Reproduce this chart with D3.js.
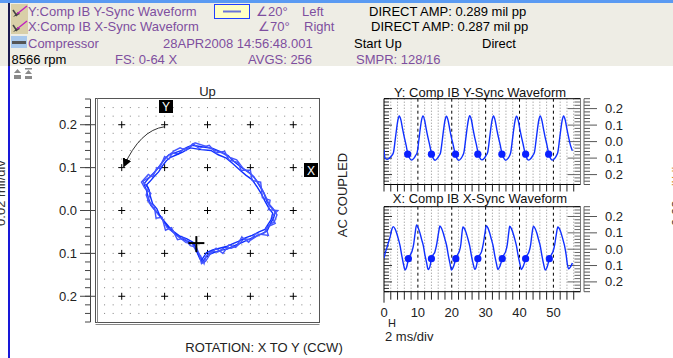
<!DOCTYPE html>
<html><head><meta charset="utf-8">
<script src="https://cdn.jsdelivr.net/npm/d3@7"></script>
<style>html,body{margin:0;padding:0;background:#fff;overflow:hidden}svg{display:block;font-family:"Liberation Sans",Arial,sans-serif}</style>
</head><body>
<svg id="c" width="673" height="358"></svg>
<script>
// ---------- DATA ----------
const headerRow1 = ["Y:Comp IB Y-Sync Waveform", "∠20°", "Left", "DIRECT AMP: 0.289 mil pp"];
const headerRow2 = ["X:Comp IB X-Sync Waveform", "∠70°", "Right", "DIRECT AMP: 0.287 mil pp"];
const headerRow3 = ["Compressor", "28APR2008 14:56:48.001", "Start Up", "Direct"];
const headerRow4 = ["8566 rpm", "FS: 0-64 X", "AVGS: 256", "SMPR: 128/16"];

const ampTicks = [0.2, 0.1, 0.0, -0.1, -0.2];
const ampTickLabels = ["0.2", "0.1", "0.0", "0.1", "0.2"];
const timeTicks = [0, 10, 20, 30, 40, 50];
const timeTickLabels = ["0", "10", "20", "30", "40", "50"];

// Y-probe waveform [ms, mil]
const waveY = [[0,-0.05],[0.3,-0.1],[1.0,-0.108],[1.6,-0.1],[2.3,-0.085],
[2.8,-0.065],[3.3,0.01],[3.7,0.075],[4.1,0.13],[4.5,0.155],[5.0,0.13],[5.5,0.075],[6.0,0.025],[6.5,-0.02],[7.0,-0.07],[7.5,-0.098],[8.1,-0.112],[8.8,-0.102],[9.3,-0.085],
[9.8,-0.065],[10.3,0.01],[10.7,0.078],[11.1,0.132],[11.5,0.156],[12.0,0.128],[12.5,0.072],[13.0,0.022],[13.5,-0.022],[14.0,-0.072],[14.5,-0.1],[15.1,-0.113],[15.8,-0.1],[16.3,-0.084],
[16.7,-0.066],[17.2,0.008],[17.6,0.074],[18.0,0.128],[18.4,0.154],[18.9,0.13],[19.4,0.076],[19.9,0.024],[20.4,-0.018],[20.9,-0.066],[21.4,-0.097],[22.0,-0.114],[22.7,-0.103],[23.2,-0.086],
[23.6,-0.064],[24.1,0.012],[24.5,0.077],[24.9,0.131],[25.3,0.157],[25.8,0.131],[26.3,0.074],[26.8,0.023],[27.3,-0.021],[27.8,-0.071],[28.3,-0.099],[28.9,-0.111],[29.6,-0.101],[30.1,-0.085],
[30.6,-0.065],[31.1,0.009],[31.5,0.076],[31.9,0.13],[32.3,0.155],[32.8,0.129],[33.3,0.073],[33.8,0.024],[34.3,-0.02],[34.8,-0.07],[35.3,-0.098],[35.9,-0.113],[36.6,-0.102],[37.1,-0.084],
[37.4,-0.066],[37.9,0.011],[38.3,0.075],[38.7,0.129],[39.1,0.154],[39.6,0.13],[40.1,0.075],[40.6,0.025],[41.1,-0.019],[41.6,-0.069],[42.1,-0.099],[42.7,-0.112],[43.4,-0.101],[43.9,-0.085],
[44.4,-0.065],[44.9,0.01],[45.3,0.076],[45.7,0.131],[46.1,0.156],[46.6,0.129],[47.1,0.074],[47.6,0.023],[48.1,-0.021],[48.6,-0.071],[49.1,-0.1],[49.7,-0.112],[50.4,-0.102],[50.9,-0.085],
[51.3,-0.065],[51.8,0.01],[52.2,0.076],[52.6,0.13],[53.0,0.155],[53.5,0.13],[54.0,0.075],[54.5,0.025],[55.0,-0.02],[55.6,-0.055]];
const kpY = [[7.0,-0.076],[14.0,-0.076],[21.1,-0.076],[27.7,-0.076],[34.8,-0.076],[41.8,-0.076],[48.6,-0.076]];

// X-probe waveform [ms, mil]
const waveX = [[0,-0.055],[0.4,-0.02],[0.8,0.005],[1.3,0.04],[1.8,0.075],[2.3,0.12],[2.75,0.138],
[3.25,0.125],[3.75,0.098],[4.25,0.062],[4.75,0.02],[5.25,-0.04],[5.75,-0.092],[6.2,-0.127],[6.65,-0.112],[7.2,-0.062],[7.75,-0.036],[8.25,-0.014],[8.75,0.03],[9.2,0.1],[9.6,0.148],
[10.1,0.13],[10.6,0.1],[11.1,0.06],[11.6,0.022],[12.1,-0.038],[12.6,-0.085],[13.0,-0.124],[13.5,-0.11],[14.0,-0.06],[14.5,-0.035],[15.0,-0.018],[15.6,0.035],[16.1,0.1],[16.5,0.142],
[17.0,0.127],[17.5,0.098],[18.0,0.06],[18.5,0.021],[19.0,-0.04],[19.5,-0.09],[19.9,-0.127],[20.4,-0.112],[21.2,-0.06],[21.7,-0.034],[22.2,-0.014],[22.7,0.032],[23.0,0.095],[23.3,0.136],
[23.8,0.124],[24.3,0.097],[24.8,0.061],[25.3,0.02],[25.8,-0.039],[26.3,-0.088],[26.8,-0.123],[27.2,-0.11],[27.7,-0.06],[28.3,-0.035],[28.8,-0.015],[29.3,0.032],[29.8,0.098],[30.2,0.144],
[30.7,0.129],[31.2,0.099],[31.7,0.06],[32.2,0.021],[32.7,-0.04],[33.2,-0.089],[33.6,-0.124],[34.1,-0.11],[34.9,-0.06],[35.4,-0.034],[35.9,-0.015],[36.4,0.03],[36.8,0.098],[37.1,0.14],
[37.6,0.126],[38.1,0.098],[38.6,0.062],[39.1,0.02],[39.6,-0.04],[40.1,-0.088],[40.5,-0.124],[41.0,-0.11],[41.8,-0.06],[42.3,-0.035],[42.8,-0.016],[43.3,0.03],[43.7,0.097],[44.1,0.141],
[44.6,0.127],[45.1,0.099],[45.6,0.06],[46.1,0.022],[46.6,-0.038],[47.1,-0.09],[47.6,-0.128],[48.1,-0.112],[48.8,-0.06],[49.4,-0.034],[49.9,-0.014],[50.4,0.03],[50.9,0.096],[51.3,0.136],
[51.8,0.124],[52.3,0.097],[52.8,0.06],[53.3,0.02],[53.8,-0.04],[54.1,-0.09],[54.5,-0.12],[55.0,-0.11],[55.6,-0.085]];
const kpX = [[7.2,-0.058],[14.0,-0.058],[21.2,-0.058],[27.7,-0.058],[34.9,-0.058],[41.8,-0.058],[48.8,-0.058]];

// Orbit revolutions [x mil, y mil]
const orbitLoopA = [[-0.036,0.152],[-0.01,0.148],[0.012,0.145],[0.03,0.137],[0.048,0.128],[0.061,0.115],[0.08,0.1],[0.095,0.09],[0.108,0.079],[0.12,0.06],[0.131,0.042],[0.139,0.02],[0.148,0.008],[0.158,-0.003],[0.154,-0.018],[0.147,-0.03],[0.139,-0.048],[0.125,-0.055],[0.108,-0.062],[0.09,-0.07],[0.075,-0.077],[0.06,-0.083],[0.046,-0.09],[0.03,-0.093],[0.015,-0.098],[0.0,-0.104],[-0.012,-0.12],[-0.018,-0.112],[-0.024,-0.098],[-0.03,-0.08],[-0.045,-0.072],[-0.06,-0.066],[-0.075,-0.055],[-0.088,-0.044],[-0.1,-0.028],[-0.11,-0.013],[-0.122,0.0],[-0.132,0.012],[-0.138,0.03],[-0.142,0.046],[-0.148,0.062],[-0.14,0.072],[-0.13,0.082],[-0.12,0.093],[-0.11,0.106],[-0.1,0.12],[-0.09,0.13],[-0.075,0.135],[-0.06,0.14],[-0.047,0.148],[-0.036,0.152]];
const orbitLoopB = [[-0.03,0.158],[-0.005,0.15],[0.018,0.14],[0.036,0.133],[0.052,0.124],[0.068,0.118],[0.085,0.096],[0.1,0.086],[0.113,0.072],[0.124,0.056],[0.134,0.036],[0.143,0.016],[0.153,0.004],[0.162,-0.01],[0.156,-0.026],[0.142,-0.036],[0.133,-0.052],[0.118,-0.058],[0.102,-0.068],[0.085,-0.066],[0.07,-0.082],[0.055,-0.088],[0.04,-0.086],[0.024,-0.097],[0.01,-0.094],[-0.004,-0.108],[-0.008,-0.124],[-0.016,-0.106],[-0.028,-0.092],[-0.036,-0.076],[-0.05,-0.075],[-0.066,-0.062],[-0.08,-0.05],[-0.094,-0.04],[-0.104,-0.022],[-0.116,-0.008],[-0.126,0.006],[-0.136,0.018],[-0.143,0.036],[-0.138,0.052],[-0.151,0.068],[-0.135,0.078],[-0.125,0.088],[-0.114,0.1],[-0.106,0.112],[-0.094,0.126],[-0.084,0.134],[-0.068,0.132],[-0.055,0.144],[-0.042,0.146],[-0.03,0.158]];
const orbitLoopC = [[-0.04,0.146],[-0.015,0.142],[0.008,0.14],[0.025,0.13],[0.044,0.122],[0.058,0.11],[0.076,0.094],[0.09,0.082],[0.104,0.072],[0.115,0.056],[0.126,0.038],[0.134,0.022],[0.144,0.004],[0.152,-0.006],[0.148,-0.022],[0.14,-0.034],[0.134,-0.044],[0.12,-0.05],[0.104,-0.058],[0.088,-0.064],[0.072,-0.072],[0.058,-0.078],[0.044,-0.084],[0.028,-0.088],[0.012,-0.092],[-0.002,-0.098],[-0.014,-0.116],[-0.022,-0.102],[-0.028,-0.088],[-0.034,-0.074],[-0.048,-0.066],[-0.064,-0.06],[-0.078,-0.05],[-0.09,-0.038],[-0.102,-0.024],[-0.112,-0.01],[-0.118,0.004],[-0.128,0.016],[-0.133,0.032],[-0.136,0.048],[-0.142,0.06],[-0.134,0.068],[-0.124,0.08],[-0.114,0.09],[-0.105,0.104],[-0.096,0.116],[-0.086,0.124],[-0.072,0.13],[-0.058,0.136],[-0.048,0.142],[-0.04,0.146]];
const orbitLoopD = [[-0.034,0.156],[-0.02,0.145],[0.004,0.152],[0.02,0.134],[0.04,0.138],[0.05,0.118],[0.072,0.112],[0.078,0.094],[0.1,0.094],[0.104,0.07],[0.124,0.066],[0.128,0.03],[0.146,0.024],[0.142,0.002],[0.164,0.0],[0.15,-0.014],[0.158,-0.03],[0.136,-0.04],[0.142,-0.058],[0.112,-0.054],[0.096,-0.074],[0.08,-0.062],[0.066,-0.086],[0.05,-0.08],[0.036,-0.1],[0.02,-0.088],[0.006,-0.102],[-0.004,-0.118],[-0.014,-0.124],[-0.02,-0.1],[-0.026,-0.086],[-0.04,-0.082],[-0.054,-0.064],[-0.07,-0.068],[-0.084,-0.04],[-0.098,-0.046],[-0.106,-0.016],[-0.12,-0.018],[-0.124,0.01],[-0.14,0.024],[-0.132,0.04],[-0.146,0.052],[-0.154,0.066],[-0.138,0.084],[-0.128,0.078],[-0.118,0.1],[-0.112,0.098],[-0.1,0.126],[-0.09,0.12],[-0.08,0.138],[-0.064,0.146],[-0.05,0.14],[-0.034,0.156]];
const orbitKP = [-0.026, -0.076];

// ---------- DRAW ----------
const svg = d3.select("#c");
const PURPLE = "#7e4f9f", BLUE = "#1030ff";
const defs = svg.append("defs");
defs.append("marker").attr("id","ah").attr("viewBox","0 0 10 10").attr("refX",9).attr("refY",5)
  .attr("markerWidth",9).attr("markerHeight",9).attr("markerUnits","userSpaceOnUse").attr("orient","auto")
  .append("path").attr("d","M0,0L10,5L0,10Z").attr("fill","#000");

// header
svg.append("rect").attr("x",0).attr("y",0).attr("width",673).attr("height",66).attr("fill","#eeede5");
svg.append("rect").attr("x",0).attr("y",0).attr("width",673).attr("height",3).attr("fill","#5a9af2");
svg.append("line").attr("x1",9).attr("x2",9).attr("y1",3).attr("y2",66).attr("stroke","#1a1a50").attr("stroke-width",2);
svg.append("line").attr("x1",9).attr("x2",9).attr("y1",66).attr("y2",358).attr("stroke","#1818d8").attr("stroke-width",2);
// icons
[[4],[19]].forEach(([y0])=>{
  const g = svg.append("g").attr("transform",`translate(11,${y0})`);
  g.append("rect").attr("width",17).attr("height",15).attr("fill","#d9cfa8");
  g.append("path").attr("d","M2,13 L7,8 L9,10 Z").attr("fill","#333");
  g.append("line").attr("x1",6).attr("y1",10).attr("x2",16).attr("y2",2).attr("stroke","#c020c0").attr("stroke-width",1.5);
  g.append("line").attr("x1",2).attr("y1",6).attr("x2",6).attr("y2",12).attr("stroke","#444").attr("stroke-width",1.5);
});
{
  const g = svg.append("g").attr("transform","translate(11,36)");
  g.append("rect").attr("width",16).attr("height",12).attr("fill","#a8c8ec");
  g.append("rect").attr("x",1).attr("y",5).attr("width",14).attr("height",3).attr("fill","#555");
}
svg.append("rect").attr("x",214.5).attr("y",4.5).attr("width",35).attr("height",14).attr("fill","#ffffc4").attr("stroke","#2040ff");
svg.append("line").attr("x1",223).attr("x2",241).attr("y1",11.5).attr("y2",11.5).attr("stroke","#6a74d8").attr("stroke-width",2);

function htext(str, x, y, color){ svg.append("text").attr("x",x).attr("y",y).attr("font-size",13).attr("fill",color).text(str); }
htext(headerRow1[0], 28, 15.5, PURPLE); htext(headerRow1[1], 256, 15.5, PURPLE); htext(headerRow1[2], 302, 15.5, PURPLE); htext(headerRow1[3], 369, 15.5, "#000");
htext(headerRow2[0], 28, 30.5, PURPLE); htext(headerRow2[1], 258, 30.5, PURPLE); htext(headerRow2[2], 304, 30.5, PURPLE); htext(headerRow2[3], 371, 30.5, "#000");
htext(headerRow3[0], 28, 47.5, PURPLE); htext(headerRow3[1], 163, 47.5, PURPLE); htext(headerRow3[2], 354, 47.5, "#000"); htext(headerRow3[3], 482, 47.5, "#000");
htext(headerRow4[0], 11.5, 63.5, "#000"); htext(headerRow4[1], 115, 63.5, PURPLE); htext(headerRow4[2], 248, 63.5, PURPLE); htext(headerRow4[3], 356, 63.5, PURPLE);

// small toolbar icons
{
  const g = svg.append("g").attr("fill","#8a8a8a");
  g.append("path").attr("d","M14,73 L17.5,69 L21,73 Z M14,79 L14,75 L21,75 L21,79 Z");
  g.append("rect").attr("x",25).attr("y",68).attr("width",7).attr("height",1.5);
  g.append("path").attr("d","M25,74 L28.5,70 L32,74 Z M25,79 L25,76 L32,76 L32,79 Z");
}

// side labels (clipped by window edges)
svg.append("text").attr("transform","translate(5,193) rotate(-90)").attr("text-anchor","middle").attr("font-size",13).attr("fill","#333").text("0.02 mil/div");
{
  const t = svg.append("text").attr("transform","translate(681,193) rotate(-90)").attr("text-anchor","middle").attr("font-size",13).attr("fill","#333");
  t.append("tspan").text("0.02 ");
  t.append("tspan").attr("fill","#d08a30").text("mil/div");
}

// ---------- ORBIT ----------
const xO = d3.scaleLinear().domain([-0.26,0.26]).range([96,319]);
const yO = d3.scaleLinear().domain([0.26,-0.26]).range([99,322]);
const gridVals = d3.range(-12,13).map(i=>i*0.02);
const dotG = svg.append("g").attr("fill","#808080");
gridVals.forEach(gx=>gridVals.forEach(gy=>{
  dotG.append("rect").attr("x",xO(gx)-0.5).attr("y",yO(gy)-0.5).attr("width",1).attr("height",1);
}));
const crossG = svg.append("g").attr("stroke","#000").attr("stroke-width",1);
ampTicks.forEach(cx=>ampTicks.forEach(cy=>{
  crossG.append("line").attr("x1",xO(cx)-3.5).attr("x2",xO(cx)+3.5).attr("y1",yO(cy)).attr("y2",yO(cy));
  crossG.append("line").attr("x1",xO(cx)).attr("x2",xO(cx)).attr("y1",yO(cy)-3.5).attr("y2",yO(cy)+3.5);
}));
// frame
svg.append("rect").attr("x",95.5).attr("y",98.5).attr("width",224).attr("height",224).attr("fill","none").attr("stroke","#555");
svg.append("line").attr("x1",97.5).attr("x2",97.5).attr("y1",98.5).attr("y2",322.5).attr("stroke","#888");
svg.append("line").attr("x1",95.5).attr("x2",319.5).attr("y1",324.5).attr("y2",324.5).attr("stroke","#888");
// ruler
const rul = svg.append("g").attr("stroke","#444");
rul.append("line").attr("x1",90.5).attr("x2",90.5).attr("y1",99).attr("y2",322);
d3.range(-13,14).map(i=>i*0.02).forEach(v=>{
  rul.append("line").attr("x1",85).attr("x2",90.5).attr("y1",yO(v)).attr("y2",yO(v));
});
ampTicks.forEach(v=>rul.append("line").attr("x1",80).attr("x2",95.5).attr("y1",yO(v)).attr("y2",yO(v)));
ampTicks.forEach((v,i)=>svg.append("text").attr("x",77).attr("y",yO(v)+4.5).attr("text-anchor","end").attr("font-size",13).attr("fill","#222").text(ampTickLabels[i]));
svg.append("text").attr("x",xO(0)).attr("y",96).attr("text-anchor","middle").attr("font-size",13).attr("fill","#222").text("Up");
// orbit traces
defs.append("clipPath").attr("id","clipO").append("rect").attr("x",96).attr("y",99).attr("width",223).attr("height",223);
const lineO = d3.line().x(d=>xO(d[0])).y(d=>yO(d[1]));
const og = svg.append("g").attr("clip-path","url(#clipO)");
[orbitLoopA, orbitLoopB, orbitLoopC, orbitLoopD].forEach((loop,i)=>{
  og.append("path").datum(loop).attr("d",lineO).attr("fill","none").attr("stroke",i%2===1?"#4456ff":BLUE).attr("stroke-width",1.4);
});
// keyphasor mark
svg.append("g").attr("stroke","#000").attr("stroke-width",2).call(g=>{
  g.append("line").attr("x1",xO(orbitKP[0])-8).attr("x2",xO(orbitKP[0])+8).attr("y1",yO(orbitKP[1])).attr("y2",yO(orbitKP[1]));
  g.append("line").attr("x1",xO(orbitKP[0])).attr("x2",xO(orbitKP[0])).attr("y1",yO(orbitKP[1])-7).attr("y2",yO(orbitKP[1])+9);
});
// probe labels and arrow
svg.append("rect").attr("x",159).attr("y",100).attr("width",14).attr("height",13).attr("fill","#000");
svg.append("text").attr("x",166).attr("y",111).attr("text-anchor","middle").attr("font-size",12).attr("fill","#fff").text("Y");
svg.append("rect").attr("x",304).attr("y",163).attr("width",14).attr("height",14).attr("fill","#000");
svg.append("text").attr("x",311).attr("y",174.5).attr("text-anchor","middle").attr("font-size",12).attr("fill","#fff").text("X");
svg.append("path").attr("d",`M${xO(-0.1)},${yO(0.2)+2} Q140,130 ${xO(-0.2)+2},${yO(0.1)-1}`).attr("fill","none").attr("stroke","#333").attr("stroke-width",1).attr("marker-end","url(#ah)");

svg.append("text").attr("transform","translate(347,195) rotate(-90)").attr("text-anchor","middle").attr("font-size",13).attr("fill","#222").text("AC COUPLED");
svg.append("text").attr("x",264).attr("y",352).attr("text-anchor","middle").attr("font-size",13).attr("fill","#222").text("ROTATION: X TO Y (CCW)");

// ---------- WAVEFORMS ----------
const xW = d3.scaleLinear().domain([0,58]).range([384,580.5]);
const panels = [
  {title:"Y: Comp IB Y-Sync Waveform", top:98.7, bot:184.5, data:waveY, kp:kpY, titleY:96.5, tickLen:7},
  {title:"X: Comp IB X-Sync Waveform", top:206.7, bot:291.7, data:waveX, kp:kpX, titleY:202.5, tickLen:8}
];
panels.forEach((p,pi)=>{
  const y = d3.scaleLinear().domain([0.26,-0.26]).range([p.top,p.bot]);
  const g = svg.append("g");
  // dotted minor grid
  d3.range(2,58,2).filter(t=>t%10!==0).forEach(t=>{
    g.append("line").attr("x1",xW(t)).attr("x2",xW(t)).attr("y1",p.top).attr("y2",p.bot).attr("stroke","#8a8a8a").attr("stroke-dasharray","1,2");
  });
  timeTicks.filter(t=>t>0).forEach(t=>{
    g.append("line").attr("x1",xW(t)).attr("x2",xW(t)).attr("y1",p.top).attr("y2",p.bot).attr("stroke","#000").attr("stroke-dasharray","3,3");
  });
  // inner rulers
  d3.range(-13,14).map(i=>i*0.02).forEach(v=>{
    const major = Math.abs(Math.round(v*100))%10===0;
    g.append("line").attr("x1",384).attr("x2",384+(major?8:5)).attr("y1",y(v)).attr("y2",y(v)).attr("stroke","#333");
    g.append("line").attr("x1",580.5).attr("x2",580.5-(major?13:6)).attr("y1",y(v)).attr("y2",y(v)).attr("stroke","#666");
    g.append("line").attr("x1",584).attr("x2",584+(major?13:6)).attr("y1",y(v)).attr("y2",y(v)).attr("stroke","#555");
  });
  g.append("line").attr("x1",584).attr("x2",584).attr("y1",p.top).attr("y2",p.bot).attr("stroke","#666");
  // frame
  g.append("line").attr("x1",384).attr("x2",580.5).attr("y1",p.top).attr("y2",p.top).attr("stroke","#000");
  g.append("line").attr("x1",384).attr("x2",580.5).attr("y1",p.bot).attr("y2",p.bot).attr("stroke","#000");
  g.append("line").attr("x1",384).attr("x2",384).attr("y1",p.top).attr("y2",p.bot).attr("stroke","#000");
  g.append("line").attr("x1",580.5).attr("x2",580.5).attr("y1",p.top).attr("y2",p.bot).attr("stroke","#777");
  // bottom ticks
  d3.range(0,58,2).forEach(t=>{
    g.append("line").attr("x1",xW(t)).attr("x2",xW(t)).attr("y1",p.bot).attr("y2",p.bot+(t===0&&pi===1?11:p.tickLen)).attr("stroke","#222");
  });
  // labels
  ampTicks.forEach((v,i)=>g.append("text").attr("x",605).attr("y",y(v)+4.5).attr("font-size",13).attr("fill","#222").text(ampTickLabels[i]));
  g.append("text").attr("x",480).attr("y",p.titleY).attr("text-anchor","middle").attr("font-size",13).attr("fill","#111").text(p.title);
  // trace
  const cid = "clipW"+pi;
  defs.append("clipPath").attr("id",cid).append("rect").attr("x",384).attr("y",p.top).attr("width",196.5).attr("height",p.bot-p.top);
  const line = d3.line().x(d=>xW(d[0])).y(d=>y(d[1])).curve(d3.curveMonotoneX);
  g.append("path").datum(p.data).attr("clip-path",`url(#${cid})`).attr("d",line).attr("fill","none").attr("stroke",BLUE).attr("stroke-width",1.4);
  g.selectAll("circle.kp"+pi).data(p.kp).join("circle").attr("cx",d=>xW(d[0])).attr("cy",d=>y(d[1])).attr("r",3.6).attr("fill","#0a20ff");
});
timeTicks.forEach((t,i)=>svg.append("text").attr("x",xW(t)).attr("y",317).attr("text-anchor","middle").attr("font-size",13).attr("fill","#222").text(timeTickLabels[i]));
svg.append("text").attr("x",392).attr("y",326.5).attr("text-anchor","middle").attr("font-size",11).attr("fill","#222").text("H");
svg.append("text").attr("x",385).attr("y",341).attr("font-size",13).attr("fill","#222").text("2 ms/div");
</script>
</body></html>
